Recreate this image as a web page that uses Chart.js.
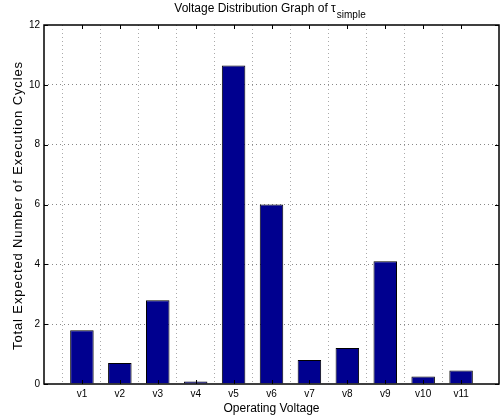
<!DOCTYPE html>
<html>
<head>
<meta charset="utf-8">
<script src="https://cdn.jsdelivr.net/npm/chart.js@4"></script>
<style>
  html, body { margin: 0; padding: 0; background: #fff; }
  #wrap { width: 503px; height: 420px; }
</style>
</head>
<body>
<div id="wrap"><canvas id="myChart" width="503" height="420"></canvas></div>
<script>
// Chart data
let voltages = ['v1', 'v2', 'v3', 'v4', 'v5', 'v6', 'v7', 'v8', 'v9', 'v10', 'v11'];
let cycles = [1.8, 0.7, 2.8, 0.08, 10.65, 6.0, 0.8, 1.2, 4.1, 0.25, 0.45];
let yTicks = [0, 2, 4, 6, 8, 10, 12];

let titleText = 'Voltage Distribution Graph of \u03c4';
let titleSub = 'simple';
let yTitle = 'Total Expected Number of Execution Cycles';

let fontFamily = '"Liberation Sans", Arial, Helvetica, sans-serif';

// Draw title with subscript, y title, box around the axes and inward tick marks
let matlabAxes = {
    id: 'matlabAxes',
    afterDraw(chart) {
        let ctx = chart.ctx;
        let area = chart.chartArea;
        let xs = chart.scales.x;
        let ys = chart.scales.y;
        ctx.save();

        // inward ticks
        ctx.strokeStyle = '#000';
        ctx.lineWidth = 1;
        ctx.setLineDash([]);
        ctx.beginPath();
        for (let i = 1; i <= voltages.length; i++) {
            let px = Math.round(xs.getPixelForValue(i)) + 0.5;
            ctx.moveTo(px, area.bottom);
            ctx.lineTo(px, area.bottom - 4);
            ctx.moveTo(px, area.top);
            ctx.lineTo(px, area.top + 4);
        }
        yTicks.forEach(v => {
            let py = Math.round(ys.getPixelForValue(v)) + 0.5;
            ctx.moveTo(area.left, py);
            ctx.lineTo(area.left + 4, py);
            ctx.moveTo(area.right, py);
            ctx.lineTo(area.right - 4, py);
        });
        ctx.stroke();

        // box
        ctx.lineWidth = 1.5;
        ctx.strokeRect(area.left, area.top, area.right - area.left, area.bottom - area.top);

        // title
        ctx.fillStyle = '#000';
        ctx.textBaseline = 'alphabetic';
        ctx.font = '12px ' + fontFamily;
        let w1 = ctx.measureText(titleText).width;
        ctx.font = '10px ' + fontFamily;
        let w2 = ctx.measureText(titleSub).width;
        let cx = (area.left + area.right) / 2;
        let x0 = cx - (w1 + w2) / 2 - 2;
        ctx.font = '12px ' + fontFamily;
        ctx.textAlign = 'left';
        ctx.fillText(titleText, x0, 12);
        ctx.font = '10px ' + fontFamily;
        ctx.fillText(titleSub, x0 + w1 + 1, 18);

        // y title, a bit spread out like the original
        ctx.font = '13px ' + fontFamily;
        let plain = ctx.measureText(yTitle).width;
        let spacing = Math.max(0, (288 - plain) / (yTitle.length - 1));
        ctx.letterSpacing = spacing.toFixed(2) + 'px';
        ctx.translate(22, (area.top + area.bottom) / 2 + 1);
        ctx.rotate(-Math.PI / 2);
        ctx.textAlign = 'center';
        ctx.fillText(yTitle, 0, 0);
        ctx.restore();
    }
};

let ctx = document.getElementById('myChart').getContext('2d');

let chart = new Chart(ctx, {
    type: 'bar',
    data: {
        datasets: [
            {
                label: 'cycles',
                data: cycles.map((c, i) => ({x: i + 1, y: c})),
                backgroundColor: '#00008f',
                borderColor: '#000',
                borderWidth: 1,
                barPercentage: 0.62,
                categoryPercentage: 1.0,
            }
        ],
    },
    options: {
        responsive: false,
        animation: false,
        layout: {
            padding: {top: 25, right: 2, left: 0, bottom: 0}
        },
        plugins: {
            legend: {display: false},
            title: {display: false},
            tooltip: {enabled: false},
        },
        scales: {
            x: {
                type: 'linear',
                min: 0,
                max: 12,
                offset: false,
                afterBuildTicks: scale => {
                    scale.ticks = [];
                    for (let i = 0; i <= 12; i++) scale.ticks.push({value: i});
                },
                ticks: {
                    autoSkip: false,
                    maxRotation: 0,
                    padding: 4,
                    color: '#000',
                    font: {family: fontFamily, size: 10},
                    callback: v => (v >= 1 && v <= voltages.length) ? voltages[v - 1] : '',
                },
                grid: {
                    drawTicks: false,
                    color: ctx => (ctx.tick && (ctx.tick.value === 0 || ctx.tick.value === 12)) ? 'rgba(0,0,0,0)' : '#aaa',
                },
                border: {display: false, dash: [1, 3]},
                title: {
                    display: true,
                    text: 'Operating Voltage',
                    color: '#000',
                    padding: {top: 0, bottom: 4},
                    font: {family: fontFamily, size: 12},
                },
                afterFit: scale => { scale.height = 36; },
            },
            y: {
                min: 0,
                max: 12,
                afterBuildTicks: scale => {
                    scale.ticks = yTicks.map(v => ({value: v}));
                },
                ticks: {
                    padding: 4,
                    color: '#000',
                    font: {family: fontFamily, size: 10},
                },
                grid: {
                    drawTicks: false,
                    color: ctx => (ctx.tick && (ctx.tick.value === 0 || ctx.tick.value === 12)) ? 'rgba(0,0,0,0)' : '#888',
                },
                border: {display: false, dash: [1, 3]},
                afterFit: scale => { scale.width = 44; },
            }
        },
    },
    plugins: [matlabAxes],
});
</script>
</body>
</html>
